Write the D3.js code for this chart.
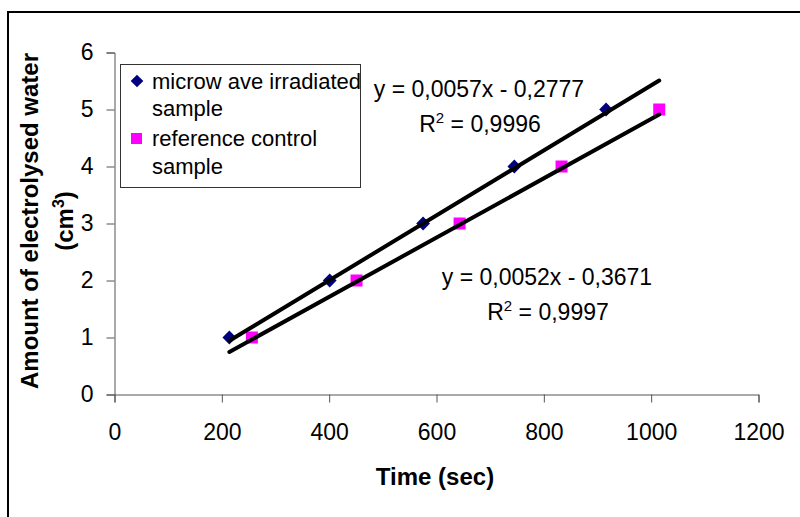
<!DOCTYPE html>
<html>
<head>
<meta charset="utf-8">
<script src="https://cdn.jsdelivr.net/npm/d3@7"></script>
<style>
  body { margin: 0; background: #fff; }
  svg { display: block; font-family: "Liberation Sans", Arial, sans-serif; }
</style>
</head>
<body>
<svg id="canvas"></svg>
<script>
// data
let microTime = [214, 401, 575, 745, 916]
let microAmount = [1, 2, 3, 4, 5]
let refTime = [256, 451, 643, 833, 1015]
let refAmount = [1, 2, 3, 4, 5]

let seriesNames = ['microw ave irradiated', 'sample', 'reference control', 'sample']
let slopes = [0.0057, 0.0052]
let intercepts = [-0.2777, -0.3671]
let eqLabels = ['y = 0,0057x - 0,2777', 'y = 0,0052x - 0,3671']
let r2Labels = [' = 0,9996', ' = 0,9997']

let xTicks = [0, 200, 400, 600, 800, 1000, 1200]
let yTicks = [0, 1, 2, 3, 4, 5, 6]

let width = 800
let height = 517

let svg = d3.select('#canvas')
svg.attr('width', width)
svg.attr('height', height)

let xScale = d3.scaleLinear().domain([0, 1200]).range([114.5, 758.5])
let yScale = d3.scaleLinear().domain([0, 6]).range([394.5, 52.5])

// outer frame (cut off at the right and bottom)
svg.append('rect')
    .attr('x', 8).attr('y', 12)
    .attr('width', 830).attr('height', 530)
    .attr('fill', 'none')
    .attr('stroke', '#000')
    .attr('stroke-width', 2)

let drawAxes = () => {
    let xAxis = d3.axisBottom(xScale)
                    .tickValues(xTicks)
                    .tickSize(8)
                    .tickPadding(21)
                    .tickFormat(d3.format('d'))
    let yAxis = d3.axisLeft(yScale)
                    .tickValues(yTicks)
                    .tickSize(8)
                    .tickPadding(13)
                    .tickFormat(d3.format('d'))

    svg.append('g')
            .attr('transform', 'translate(0, ' + yScale(0) + ')')
            .call(xAxis)
    svg.append('g')
            .attr('transform', 'translate(' + xScale(0) + ', 0)')
            .call(yAxis)

    svg.selectAll('.domain, .tick line').attr('stroke', '#555')
    svg.selectAll('.tick text')
        .attr('fill', '#000')
        .style('font-size', '23px')
        .style('font-family', '"Liberation Sans", Arial, sans-serif')
}

let drawTitles = () => {
    svg.append('text')
        .attr('x', 435).attr('y', 485)
        .attr('text-anchor', 'middle')
        .style('font-size', '24px').style('font-weight', 'bold')
        .text('Time (sec)')

    let yt = svg.append('text')
        .attr('transform', 'translate(38, 221) rotate(-90)')
        .attr('text-anchor', 'middle')
        .style('font-size', '24px').style('font-weight', 'bold')
    yt.append('tspan').attr('x', 0).attr('y', 0).text('Amount of electrolysed water')
    let t2 = yt.append('tspan').attr('x', 0).attr('y', 35)
    t2.append('tspan').text('(cm')
    t2.append('tspan').attr('dy', -9).style('font-size', '16px').text('3')
    t2.append('tspan').attr('dy', 9).text(')')
}

let drawPoints = () => {
    let micro = microTime.map((t, i) => ({ x: t, y: microAmount[i] }))
    let ref = refTime.map((t, i) => ({ x: t, y: refAmount[i] }))

    svg.selectAll('rect.ref')
        .data(ref)
        .enter()
        .append('rect')
        .attr('class', 'ref')
        .attr('x', (d) => xScale(d.x) - 6)
        .attr('y', (d) => yScale(d.y) - 6)
        .attr('width', 12).attr('height', 12)
        .attr('fill', '#ff00ff')

    svg.selectAll('path.micro')
        .data(micro)
        .enter()
        .append('path')
        .attr('class', 'micro')
        .attr('d', d3.symbol(d3.symbolSquare, 95))
        .attr('transform', (d) => 'translate(' + xScale(d.x) + ',' + yScale(d.y) + ') rotate(45)')
        .attr('fill', '#000080')
}

let drawTrends = () => {
    let ext = d3.extent(microTime.concat(refTime))
    slopes.forEach((m, i) => {
        svg.append('line')
            .attr('x1', xScale(ext[0])).attr('y1', yScale(m * ext[0] + intercepts[i]))
            .attr('x2', xScale(ext[1])).attr('y2', yScale(m * ext[1] + intercepts[i]))
            .attr('stroke', '#000')
            .attr('stroke-width', 4)
            .attr('stroke-linecap', 'round')
    })

    let eqPos = [[479, 97], [547, 285]]
    eqLabels.forEach((s, i) => {
        svg.append('text')
            .attr('x', eqPos[i][0]).attr('y', eqPos[i][1])
            .attr('text-anchor', 'middle')
            .style('font-size', '23px')
            .text(s)
        let r = svg.append('text')
            .attr('x', eqPos[i][0] + 1).attr('y', eqPos[i][1] + 35)
            .attr('text-anchor', 'middle')
            .style('font-size', '23px')
        r.append('tspan').text('R')
        r.append('tspan').attr('dy', -9).style('font-size', '15px').text('2')
        r.append('tspan').attr('dy', 9).text(r2Labels[i])
    })
}

let drawLegend = () => {
    let g = svg.append('g')
    g.append('rect')
        .attr('x', 120.5).attr('y', 64.5)
        .attr('width', 240).attr('height', 123)
        .attr('fill', '#fff')
        .attr('stroke', '#333')
        .attr('stroke-width', 1)

    let rows = [89, 116, 146, 174]
    g.selectAll('text')
        .data(seriesNames)
        .enter()
        .append('text')
        .attr('x', 152)
        .attr('y', (d, i) => rows[i])
        .style('font-size', '22px')
        .text((d) => d)

    g.append('path')
        .attr('d', d3.symbol(d3.symbolSquare, 80))
        .attr('transform', 'translate(137, 81) rotate(45)')
        .attr('fill', '#000080')
    g.append('rect')
        .attr('x', 131).attr('y', 133)
        .attr('width', 11).attr('height', 11)
        .attr('fill', '#ff00ff')
}

drawAxes()
drawTitles()
drawPoints()
drawTrends()
drawLegend()
</script>
</body>
</html>
